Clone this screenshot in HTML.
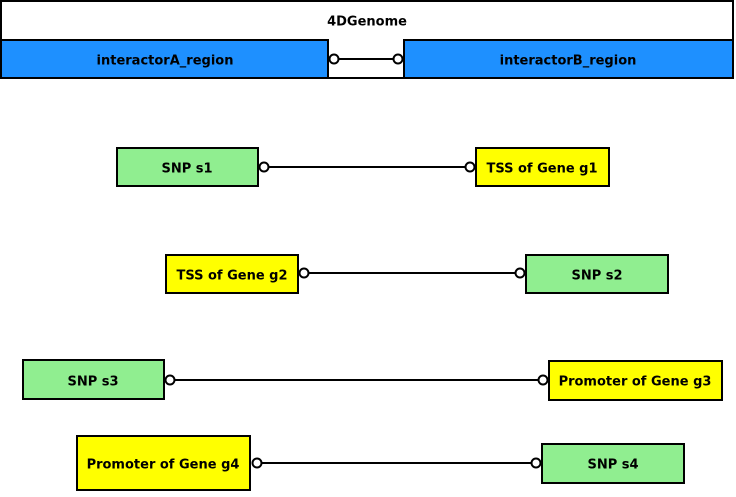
<!DOCTYPE html>
<html><head><meta charset="utf-8"><style>
html,body{margin:0;padding:0;background:#fff}
text{font-family:"DejaVu Sans","Liberation Sans",sans-serif;font-weight:bold;font-size:13px;fill:#000}
</style></head><body>
<svg width="736" height="492" xmlns="http://www.w3.org/2000/svg">
<g stroke="#000" stroke-width="2">
<rect x="1" y="1" width="732" height="77" fill="#fff"/>
<rect x="1" y="40" width="327" height="38" fill="#1e90ff"/>
<rect x="404" y="40" width="329" height="38" fill="#1e90ff"/>
<line x1="334" y1="59" x2="398" y2="59"/>
<circle cx="334" cy="59" r="4.5" fill="#fff"/>
<circle cx="398" cy="59" r="4.5" fill="#fff"/>

<rect x="117" y="148" width="141" height="38" fill="#90ee90"/>
<rect x="476" y="148" width="133" height="38" fill="#ffff00"/>
<line x1="264" y1="167" x2="470" y2="167"/>
<circle cx="264" cy="167" r="4.5" fill="#fff"/>
<circle cx="470" cy="167" r="4.5" fill="#fff"/>

<rect x="166" y="255" width="132" height="38" fill="#ffff00"/>
<rect x="526" y="255" width="142" height="38" fill="#90ee90"/>
<line x1="304" y1="273" x2="520" y2="273"/>
<circle cx="304" cy="273" r="4.5" fill="#fff"/>
<circle cx="520" cy="273" r="4.5" fill="#fff"/>

<rect x="23" y="360" width="141" height="39" fill="#90ee90"/>
<rect x="549" y="361" width="173" height="39" fill="#ffff00"/>
<line x1="170" y1="380" x2="543" y2="380"/>
<circle cx="170" cy="380" r="4.5" fill="#fff"/>
<circle cx="543" cy="380" r="4.5" fill="#fff"/>

<rect x="77" y="436" width="173" height="54" fill="#ffff00"/>
<rect x="542" y="444" width="142" height="39" fill="#90ee90"/>
<line x1="257" y1="463" x2="536" y2="463"/>
<circle cx="257" cy="463" r="4.5" fill="#fff"/>
<circle cx="536" cy="463" r="4.5" fill="#fff"/>
</g>
<g text-anchor="middle" dominant-baseline="central">
<text x="367" y="22">4DGenome</text>
<text x="165" y="61">interactorA_region</text>
<text x="568" y="61">interactorB_region</text>
<text x="187" y="169">SNP s1</text>
<text x="542" y="169">TSS of Gene g1</text>
<text x="232" y="276">TSS of Gene g2</text>
<text x="597" y="276">SNP s2</text>
<text x="93" y="382">SNP s3</text>
<text x="635" y="382">Promoter of Gene g3</text>
<text x="163" y="465">Promoter of Gene g4</text>
<text x="613" y="465">SNP s4</text>
</g>
</svg>
</body></html>
